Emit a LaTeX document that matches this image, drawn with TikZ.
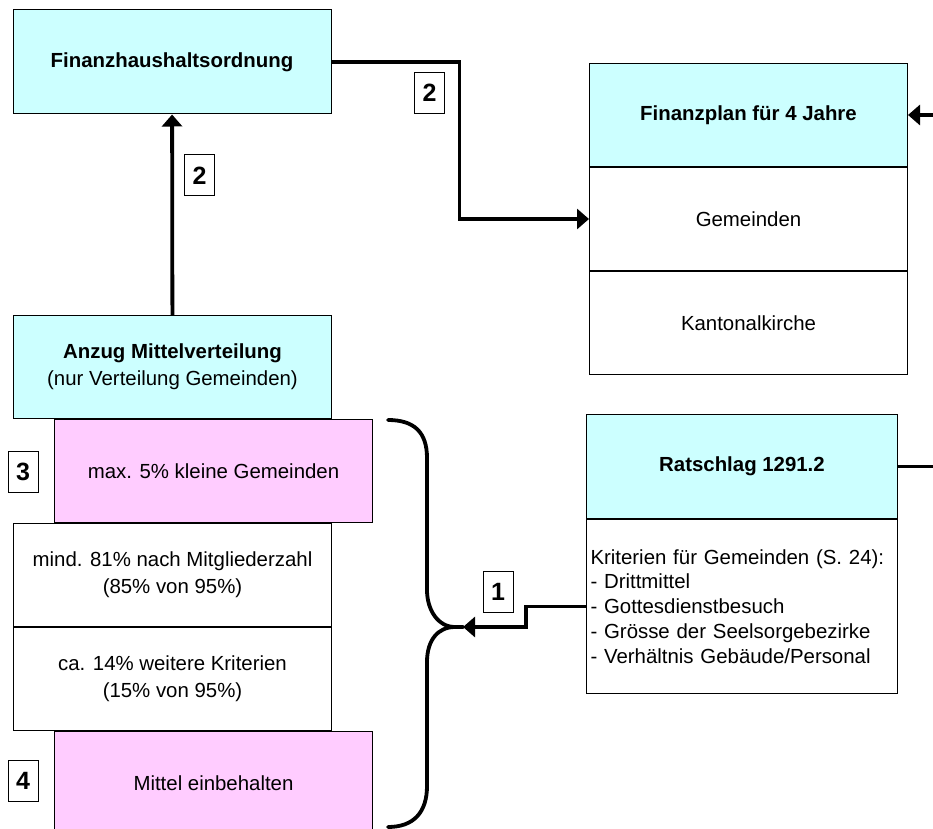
\documentclass[tikz,border=0pt]{standalone}
\usepackage{fontspec}
\setmainfont{Liberation Sans}
\usepackage{xcolor}
\usetikzlibrary{arrows.meta,positioning}
\definecolor{hdcyan}{RGB}{204,255,255}
\definecolor{pkpink}{RGB}{255,204,255}

\begin{document}
\begin{tikzpicture}[x=1pt, y=1pt,
  box/.style={rectangle, draw=black, line width=0.5pt, fill=white, minimum width=159pt,
    minimum height=51.5pt, align=center, inner sep=2pt, font=\fontsize{10.2}{13.5}\selectfont},
  hd/.style={box, fill=hdcyan},
  pk/.style={box, fill=pkpink},
  num/.style={rectangle, draw=black, line width=0.5pt, fill=white, minimum width=15pt,
    minimum height=20.5pt, inner sep=0pt, font=\fontsize{12.5}{14}\selectfont\bfseries},
  arr/.style={-{Triangle[length=6pt, width=10pt]}, line width=1.9pt},
  brc/.style={line width=1.9pt, line cap=round}]
\useasboundingbox (0,0) rectangle (466.5,-414.5);
\clip (0,0) rectangle (466.5,-414.5);
\node[hd, minimum height=52pt] (fho) at (86,-31) {\textbf{Finanzhaushaltsordnung}};
\node[hd, anchor=north west] (plan) at (294.5,-31.5) {\textbf{Finanzplan für 4 Jahre}};
\node[box, below=0pt of plan] (gem) {Gemeinden};
\node[box, below=0pt of gem] (kant) {Kantonalkirche};
\node[hd, anchor=north west] (anzug) at (6.5,-157.5) {\textbf{Anzug Mittelverteilung}\\(nur Verteilung Gemeinden)};
\node[pk, anchor=north west] (klein) at ([xshift=20.5pt]anzug.south west) {max. 5\% kleine Gemeinden};
\node[box, anchor=north west] (mitglied) at (klein.south west -| anzug.west) {mind. 81\% nach Mitgliederzahl\\(85\% von 95\%)};
\node[box, below=0pt of mitglied] (weitere) {ca. 14\% weitere Kriterien\\(15\% von 95\%)};
\node[pk, anchor=north west] (einbeh) at ([xshift=20.5pt]weitere.south west) {Mittel einbehalten};
\node[hd, anchor=north west, minimum width=155.5pt, minimum height=52pt] (rat) at (293,-207) {\textbf{Ratschlag 1291.2}};
\node[box, below=0pt of rat, minimum width=155.5pt, minimum height=87pt, text width=151.5pt,
  align=left, font=\fontsize{10.2}{12.4}\selectfont] (ratk)
  {Kriterien für Gemeinden (S. 24):\\- Drittmittel\\- Gottesdienstbesuch\\- Grösse der Seelsorgebezirke\\- Verhältnis Gebäude/Personal};
\node[num] (n2a) at (99.75,-87.75) {2};
\node[num] (n2b) at (214.75,-46.5) {2};
\node[num] (n3) at (11.5,-235.75) {3};
\node[num] (n4) at (11.5,-390.25) {4};
\node[num] (n1) at (249,-296) {1};
\coordinate (tip) at (231.5,-313.5);
\draw[arr] (anzug) -- (fho);
\draw[arr] (fho.east) -- ++(64,0) |- (gem.west);
\draw[arr] (rat.east) -- ++(30,0) |- (plan.east);
\draw[arr] (ratk.west) -- ++(-30,0) |- (tip);
\draw[brc] (194,-210) .. controls (207,-210) and (213.5,-216) .. (213.5,-229) -- (213.5,-295)
  .. controls (213.5,-305) and (219,-313.5) .. (227.5,-313.5) -- (tip);
\draw[brc] (tip) -- (227.5,-313.5) .. controls (219,-313.5) and (213.5,-320) .. (213.5,-331)
  -- (213.5,-393) .. controls (213.5,-406) and (207,-413.5) .. (194,-413.5);
\end{tikzpicture}
\end{document}
